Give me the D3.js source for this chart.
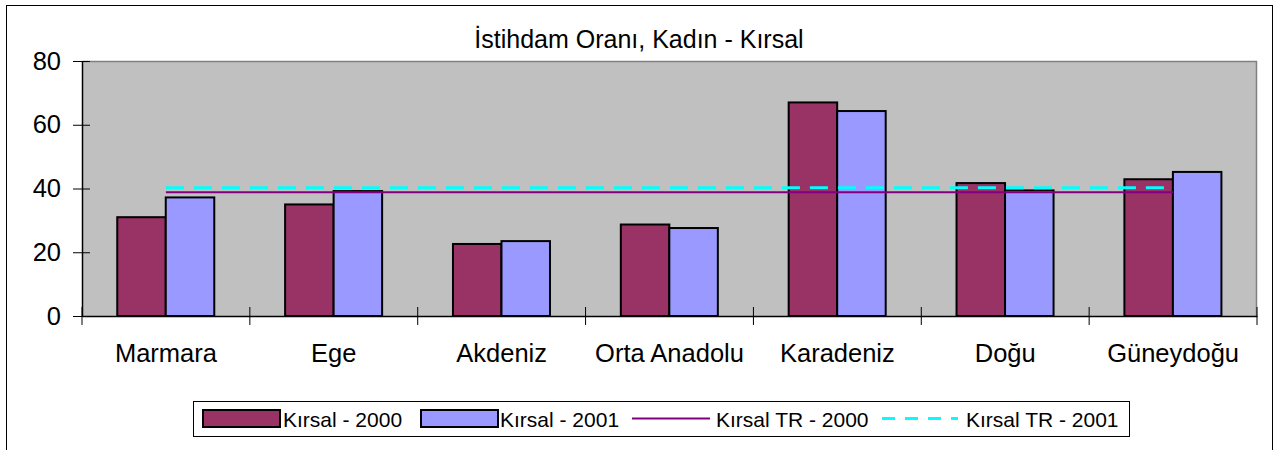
<!DOCTYPE html>
<html>
<head>
<meta charset="utf-8">
<script src="https://cdn.jsdelivr.net/npm/d3@7"></script>
<style>
  body { margin: 0; background: #fff; }
  svg { display: block; font-family: "Liberation Sans", Arial, sans-serif; }
</style>
</head>
<body>
<svg width="1282" height="450"></svg>
<script>
var regions = ["Marmara", "Ege", "Akdeniz", "Orta Anadolu", "Karadeniz", "Doğu", "Güneydoğu"];
var kirsal2000 = [31.0, 35.0, 22.6, 28.7, 67.0, 41.7, 42.9];
var kirsal2001 = [37.2, 39.2, 23.5, 27.6, 64.3, 39.4, 45.2];
var trLine2000 = 38.8;
var trLine2001 = 40.2;
var yTicks = [0, 20, 40, 60, 80];
var seriesNames = ["Kırsal - 2000", "Kırsal - 2001", "Kırsal TR - 2000", "Kırsal TR - 2001"];

var svg = d3.select("svg");
var plotLeft = 82, plotRight = 1257, plotTop = 61, plotBottom = 316;

// outer frame
svg.append("rect")
    .attr("x", 6.5).attr("y", 5.5)
    .attr("width", 1266).attr("height", 460)
    .attr("fill", "#fff").attr("stroke", "#000").attr("stroke-width", 1);

svg.append("text")
    .attr("x", 639).attr("y", 48)
    .attr("text-anchor", "middle")
    .attr("font-size", 25)
    .text("İstihdam Oranı, Kadın - Kırsal");

var x = d3.scaleBand().domain(regions).range([plotLeft, plotRight]);
var y = d3.scaleLinear().domain([0, 80]).range([plotBottom, plotTop]);

// plot background
svg.append("rect")
    .attr("x", plotLeft).attr("y", plotTop)
    .attr("width", plotRight - plotLeft).attr("height", plotBottom - plotTop)
    .attr("fill", "#c0c0c0");
svg.append("path")
    .attr("d", "M" + plotLeft + "," + (plotTop + 0.5) + "H" + (plotRight - 0.5) + "V" + plotBottom)
    .attr("fill", "none").attr("stroke", "#808080").attr("stroke-width", 1.5);

// bars
var barW = x.bandwidth() * 0.289;
var groupOff = x.bandwidth() * 0.21;
var series = [
    {vals: kirsal2000, color: "#993366", off: 0},
    {vals: kirsal2001, color: "#9999ff", off: 1}
];
series.forEach(function(s) {
    svg.append("g").selectAll("rect")
        .data(regions)
        .enter().append("rect")
        .attr("x", function(d) { return x(d) + groupOff + s.off * barW; })
        .attr("y", function(d, i) { return y(s.vals[i]); })
        .attr("width", barW)
        .attr("height", function(d, i) { return y(0) - y(s.vals[i]); })
        .attr("fill", s.color)
        .attr("stroke", "#000")
        .attr("stroke-width", 2);
});

// TR lines from first to last category centre
var x0 = x(regions[0]) + x.bandwidth() / 2;
var x1 = x(regions[regions.length - 1]) + x.bandwidth() / 2;
svg.append("line")
    .attr("x1", x0).attr("x2", x1)
    .attr("y1", y(trLine2000)).attr("y2", y(trLine2000))
    .attr("stroke", "#800080").attr("stroke-width", 2);
svg.append("line")
    .attr("x1", x0).attr("x2", x1)
    .attr("y1", y(trLine2001)).attr("y2", y(trLine2001))
    .attr("stroke", "#00ffff").attr("stroke-width", 3)
    .attr("stroke-dasharray", "18,10");

// y axis
var yAxis = svg.append("g")
    .attr("transform", "translate(" + plotLeft + ",0)")
    .call(d3.axisLeft(y).tickValues(yTicks).tickSize(0).tickPadding(21));
yAxis.select(".domain").attr("stroke", "#000").attr("stroke-width", 1.5);
yAxis.selectAll(".tick text").attr("font-size", 25.5).attr("fill", "#000")
    .attr("font-family", "Liberation Sans, Arial, sans-serif");
yAxis.selectAll(".tick").append("line")
    .attr("x1", -9).attr("x2", 8).attr("stroke", "#000");

// x axis
var xAxis = svg.append("g")
    .attr("transform", "translate(0," + plotBottom + ")")
    .call(d3.axisBottom(x).tickSize(0).tickPadding(28));
xAxis.select(".domain").attr("stroke", "#000").attr("stroke-width", 1.5);
xAxis.selectAll(".tick text").attr("font-size", 25.5).attr("fill", "#000")
    .attr("font-family", "Liberation Sans, Arial, sans-serif");
var edges = regions.map(function(d) { return x(d); }).concat([plotRight]);
xAxis.selectAll(".sep").data(edges)
    .enter().append("line")
    .attr("x1", function(d) { return d; }).attr("x2", function(d) { return d; })
    .attr("y1", -9).attr("y2", 9)
    .attr("stroke", "#000");

// legend
var lg = svg.append("g");
lg.append("rect")
    .attr("x", 193.5).attr("y", 401.5).attr("width", 936).attr("height", 35)
    .attr("fill", "#fff").attr("stroke", "#000");
var legendX = [203, 421, 632, 882];
var textX = [283, 500, 716, 966];
[0, 1].forEach(function(i) {
    lg.append("rect")
        .attr("x", legendX[i]).attr("y", 410).attr("width", 77).attr("height", 17)
        .attr("fill", series[i].color).attr("stroke", "#000").attr("stroke-width", 2);
});
lg.append("line")
    .attr("x1", legendX[2]).attr("x2", legendX[2] + 78).attr("y1", 418.5).attr("y2", 418.5)
    .attr("stroke", "#800080").attr("stroke-width", 2);
lg.append("line")
    .attr("x1", legendX[3]).attr("x2", legendX[3] + 76).attr("y1", 418.5).attr("y2", 418.5)
    .attr("stroke", "#00ffff").attr("stroke-width", 3).attr("stroke-dasharray", "13,10");
lg.selectAll(".lt").data(seriesNames)
    .enter().append("text")
    .attr("x", function(d, i) { return textX[i]; })
    .attr("y", 427)
    .attr("font-size", 21)
    .text(function(d) { return d; });
</script>
</body>
</html>
